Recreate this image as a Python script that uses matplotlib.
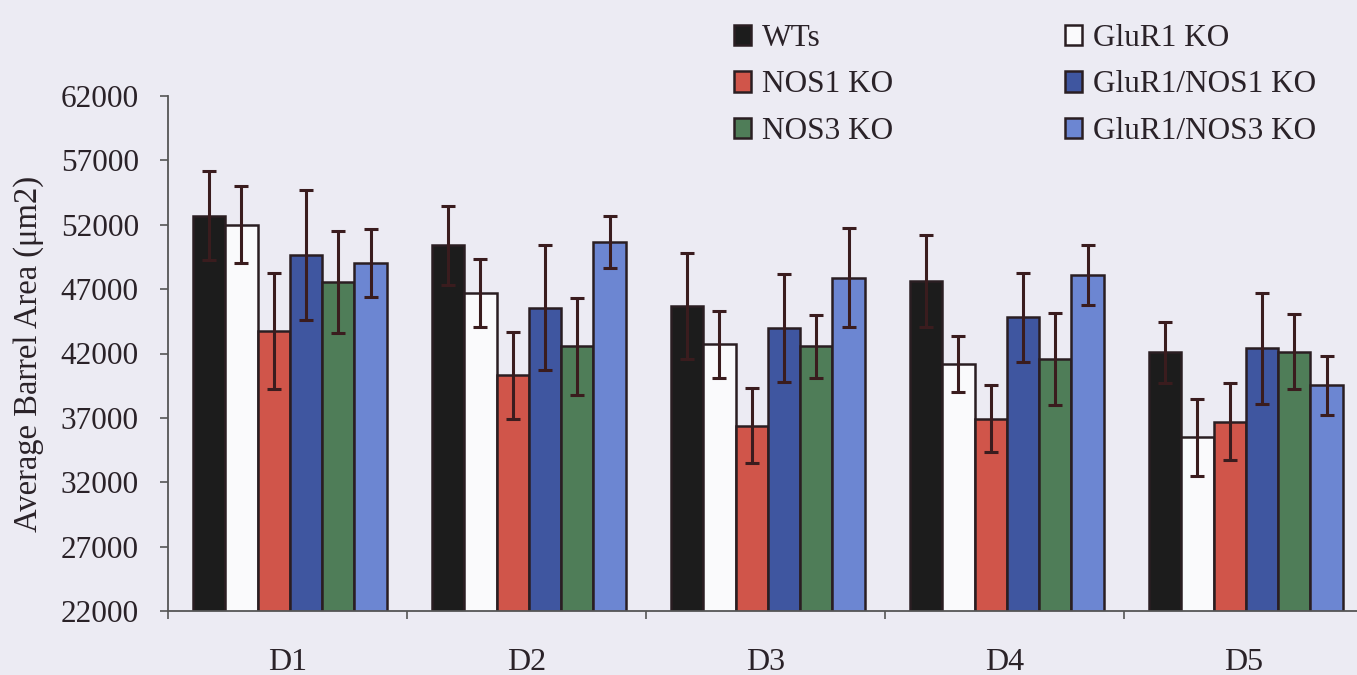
import numpy as np
import matplotlib
matplotlib.use('Agg')
import matplotlib.pyplot as plt

plt.rcParams['font.family'] = ['Liberation Serif', 'DejaVu Serif']

# Barrel area per digit
digits = ['D1', 'D2', 'D3', 'D4', 'D5']
names = ['WTs', 'GluR1 KO', 'NOS1 KO', 'GluR1/NOS1 KO', 'NOS3 KO', 'GluR1/NOS3 KO']

wts = [52700, 50400, 45700, 47600, 42100]
glur1 = [52000, 46700, 42700, 41200, 35500]
nos1 = [43750, 40300, 36400, 36950, 36700]
glur1_nos1 = [49650, 45550, 43950, 44800, 42400]
nos3 = [47550, 42550, 42550, 41550, 42150]
glur1_nos3 = [49050, 50650, 47900, 48070, 39530]

wts_err = [3450, 3050, 4130, 3570, 2360]
glur1_err = [3000, 2650, 2620, 2180, 2980]
nos1_err = [4470, 3390, 2940, 2600, 3000]
glur1_nos1_err = [5070, 4850, 4200, 3450, 4300]
nos3_err = [3990, 3750, 2420, 3560, 2900]
glur1_nos3_err = [2640, 2030, 3880, 2330, 2280]

y_ticks = [22000, 27000, 32000, 37000, 42000, 47000, 52000, 57000, 62000]

means = [wts, glur1, nos1, glur1_nos1, nos3, glur1_nos3]
errs = [wts_err, glur1_err, nos1_err, glur1_nos1_err, nos3_err, glur1_nos3_err]
colours = ['#1c1c1c', '#fafafc', '#d0554a', '#3f56a0', '#4f7d58', '#6c86d2']

bg = '#ecebf3'
edge = '#2a1e22'
txt = '#2a2228'

fig = plt.figure(figsize=(13.57, 6.75), dpi=100, facecolor=bg)
ax = fig.add_axes([168/1357, 64/675, 1195/1357, 515/675], facecolor=bg)

x = np.arange(len(digits))
w = 0.135
handles = []
for i in range(len(names)):
    pos = x + (i - 2.5) * w + 0.01
    b = ax.bar(pos, means[i], w, bottom=0, color=colours[i], edgecolor=edge,
               linewidth=1.8, label=names[i], zorder=2)
    ax.errorbar(pos, means[i], yerr=errs[i], fmt='none', ecolor='#3a1c1e',
                elinewidth=2.2, capsize=5, capthick=2.2, zorder=3)
    handles.append(b)

ax.set_ylim(22000, 62000)
ax.set_xlim(-0.5, 4.5)
ax.set_yticks(y_ticks)
ax.set_yticklabels([str(v) for v in y_ticks])
ax.set_xticks(x)
ax.set_xticklabels(digits)
ax.set_xticks(np.arange(-0.5, 4.0, 1.0), minor=True)

for s in ['top', 'right']:
    ax.spines[s].set_visible(False)
for s in ['left', 'bottom']:
    ax.spines[s].set_color('#555555')
    ax.spines[s].set_linewidth(1.3)

ax.tick_params(axis='y', length=6, width=1.2, color='#555555', pad=15,
               labelsize=22.5, labelcolor=txt)
ax.tick_params(axis='x', which='major', length=0, pad=27,
               labelsize=23, labelcolor=txt)
ax.tick_params(axis='x', which='minor', length=6, width=1.2, color='#555555')

ax.set_ylabel('Average Barrel Area (\u03bcm2)', fontsize=23.5, color=txt,
              labelpad=12)

# legend: two columns, filled column-wise
order = [0, 2, 4, 1, 3, 5]
fig.legend([handles[k] for k in order], [names[k] for k in order],
           loc='upper left', bbox_to_anchor=(734/1357, 1 - 24/675),
           ncol=2, frameon=False, fontsize=22.5, handlelength=0.55,
           handleheight=0.65, handletextpad=0.35, columnspacing=5.5,
           labelspacing=0.56, borderpad=0, borderaxespad=0,
           labelcolor=txt)

fig.savefig('out.png', dpi=100, facecolor=bg)
